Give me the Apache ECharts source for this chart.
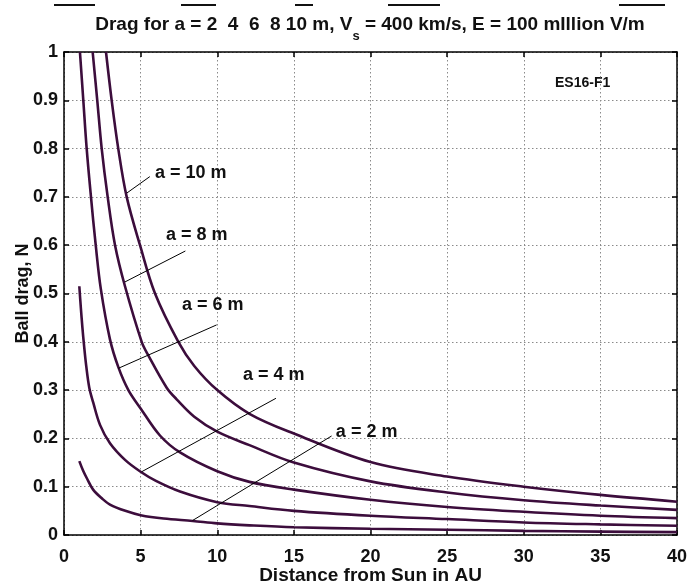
<!DOCTYPE html>
<html><head><meta charset="utf-8">
<script src="https://cdn.jsdelivr.net/npm/echarts@6/dist/echarts.min.js"></script>
<style>html,body{margin:0;padding:0;background:#fff}#c{width:687px;height:585px}</style>
</head><body><div id="c"></div>
<script>
// ---- data ----
const seriesNames = ['a = 2 m', 'a = 4 m', 'a = 6 m', 'a = 8 m', 'a = 10 m'];

const xA2 = [1.0, 1.25, 1.5, 1.9, 2.5, 3.0, 4.0, 5.0, 6.5, 8.4, 10, 12.1, 15, 20, 25, 30, 35, 40];
const yA2 = [0.153, 0.133, 0.117, 0.094, 0.075, 0.063, 0.050, 0.041, 0.034, 0.029, 0.024, 0.020, 0.016, 0.013, 0.011, 0.0085, 0.007, 0.006];

const xA4 = [1.0, 1.1, 1.2, 1.3, 1.45, 1.65, 1.9, 2.35, 3.0, 4.0, 5.0, 6.0, 7.57, 10, 12.1, 15, 20, 25, 30, 35, 40];
const yA4 = [0.515, 0.47, 0.43, 0.395, 0.35, 0.305, 0.275, 0.228, 0.19, 0.155, 0.131, 0.112, 0.090, 0.068, 0.060, 0.050, 0.040, 0.033, 0.026, 0.022, 0.019];

const xA6 = [1.04, 1.26, 1.48, 1.76, 2.07, 2.4, 3.0, 3.54, 4.2, 5.0, 6.26, 7.57, 10, 12.1, 15, 20, 25, 30, 35, 40];
const yA6 = [1.0, 0.9, 0.8, 0.7, 0.6, 0.51, 0.405, 0.348, 0.30, 0.262, 0.206, 0.171, 0.132, 0.110, 0.094, 0.073, 0.058, 0.048, 0.040, 0.035];

const xA8 = [1.87, 2.17, 2.46, 2.85, 3.33, 3.98, 5.07, 5.5, 6.7, 7.35, 8.5, 10, 12.1, 15, 20, 25, 30, 35, 40];
const yA8 = [1.0, 0.9, 0.8, 0.7, 0.6, 0.515, 0.40, 0.372, 0.305, 0.281, 0.245, 0.214, 0.186, 0.150, 0.111, 0.088, 0.072, 0.061, 0.052];

const xA10 = [2.74, 3.11, 3.54, 4.09, 4.96, 5.94, 7.46, 8.5, 10, 12.1, 15, 20, 25, 30, 35, 40];
const yA10 = [1.0, 0.9, 0.8, 0.7, 0.6, 0.5, 0.4, 0.35, 0.30, 0.251, 0.210, 0.151, 0.121, 0.100, 0.083, 0.069];

// annotation anchors (data units)
const labelX = [17.74, 11.68, 7.70, 6.65, 5.94];
const labelY = [0.213, 0.331, 0.476, 0.621, 0.749];
const pointerFromX = [8.39, 5.07, 3.54, 3.98, 4.1];
const pointerFromY = [0.030, 0.131, 0.345, 0.524, 0.708];
const pointerToX = [17.46, 13.83, 9.96, 7.92, 5.6];
const pointerToY = [0.205, 0.283, 0.435, 0.588, 0.742];

const titleMain = 'Drag for a = 2  4  6  8 10 m, V';
const titleSub = 's';
const titleRest = ' = 400 km/s, E = 100 mIllion V/m';
const figureTag = 'ES16-F1';
const xName = 'Distance from Sun in AU';
const yName = 'Ball drag, N';

// ---- chart ----
const FONT = '"Liberation Sans", Arial, sans-serif';
const CURVE = '#3c0d3c';
const xs = [xA2, xA4, xA6, xA8, xA10];
const ys = [yA2, yA4, yA6, yA8, yA10];

const chart = echarts.init(document.getElementById('c'), null, {renderer: 'canvas'});

const series = seriesNames.map((nm, k) => ({
  name: nm,
  type: 'line',
  xAxisIndex: 0, yAxisIndex: 0,
  data: xs[k].map((x, i) => [x, ys[k][i]]),
  showSymbol: false,
  smooth: 0.35,
  clip: true,
  lineStyle: {color: CURVE, width: 2.6},
  itemStyle: {color: CURVE},
  emphasis: {disabled: true},
  silent: true,
  markLine: {
    silent: true,
    symbol: ['none', 'none'],
    label: {show: false},
    emphasis: {disabled: true},
    lineStyle: {color: '#000', width: 1, type: 'solid'},
    data: [[{coord: [pointerFromX[k], pointerFromY[k]]}, {coord: [pointerToX[k], pointerToY[k]]}]]
  },
  markPoint: {
    silent: true,
    symbol: 'circle',
    symbolSize: 0.01,
    itemStyle: {color: 'transparent'},
    label: {
      show: true, position: 'right', distance: 0,
      formatter: nm,
      color: '#111', fontSize: 18, fontWeight: 'bold', fontFamily: FONT
    },
    data: [{coord: [labelX[k], labelY[k]], value: 0}]
  }
}));

const tickStyle = {show: true, inside: true, length: 5, lineStyle: {color: '#000', width: 1.5}};
const axisLineStyle = {show: true, onZero: false, lineStyle: {color: '#000', width: 1.5}};
const gridLine = {show: true, lineStyle: {color: '#8a8a8a', width: 1, type: [1.5, 2.5]}};
const labelStyle = {color: '#111', fontSize: 18, fontWeight: 'bold', fontFamily: FONT};

chart.setOption({
  animation: false,
  backgroundColor: '#fff',
  grid: {left: 64, right: 10, top: 52, bottom: 50, containLabel: false, outerBoundsMode: 'none'},
  xAxis: [
    {type: 'value', position: 'bottom', min: 0, max: 40, interval: 5,
     axisLine: axisLineStyle, axisTick: tickStyle, splitLine: gridLine,
     axisLabel: Object.assign({margin: 13}, labelStyle),
     name: xName, nameLocation: 'middle', nameGap: 31, nameMoveOverlap: false,
     nameTextStyle: {color: '#111', fontSize: 19, fontWeight: 'bold', fontFamily: FONT}},
    {type: 'value', position: 'top', min: 0, max: 40, interval: 5,
     axisLine: axisLineStyle, axisTick: tickStyle, splitLine: {show: false},
     axisLabel: {show: false}}
  ],
  yAxis: [
    {type: 'value', position: 'left', min: 0, max: 1, interval: 0.1,
     axisLine: axisLineStyle, axisTick: tickStyle, splitLine: gridLine,
     axisLabel: Object.assign({margin: 6}, labelStyle),
     name: yName, nameLocation: 'middle', nameGap: 32, nameMoveOverlap: false,
     nameTextStyle: {color: '#111', fontSize: 18, fontWeight: 'bold', fontFamily: FONT}},
    {type: 'value', position: 'right', min: 0, max: 1, interval: 0.1,
     axisLine: axisLineStyle, axisTick: tickStyle, splitLine: {show: false},
     axisLabel: {show: false}}
  ],
  graphic: [
    {type: 'text', x: 370, y: 7, silent: true,
     style: {
       text: titleMain + '{s|' + titleSub + '}' + titleRest,
       align: 'center', verticalAlign: 'top',
       fill: '#111', fontSize: 19, fontWeight: 'bold', fontFamily: FONT, lineHeight: 36,
       rich: {s: {fontSize: 13, fontWeight: 'bold', fontFamily: FONT, lineHeight: 15, verticalAlign: 'bottom', fill: '#111'}}
     }},
    {type: 'text', x: 555, y: 83, silent: true,
     style: {text: figureTag, align: 'left', verticalAlign: 'middle', fill: '#111', fontSize: 14, fontWeight: 'bold', fontFamily: FONT}},
    {type: 'rect', silent: true, shape: {x: 54, y: 4, width: 41, height: 2}, style: {fill: '#111'}},
    {type: 'rect', silent: true, shape: {x: 181, y: 4, width: 35, height: 2}, style: {fill: '#111'}},
    {type: 'rect', silent: true, shape: {x: 295, y: 4, width: 18, height: 2}, style: {fill: '#111'}},
    {type: 'rect', silent: true, shape: {x: 388, y: 4, width: 52, height: 2}, style: {fill: '#111'}},
    {type: 'rect', silent: true, shape: {x: 619, y: 4, width: 46, height: 2}, style: {fill: '#111'}}
  ],
  series: series
});
</script>
</body></html>
